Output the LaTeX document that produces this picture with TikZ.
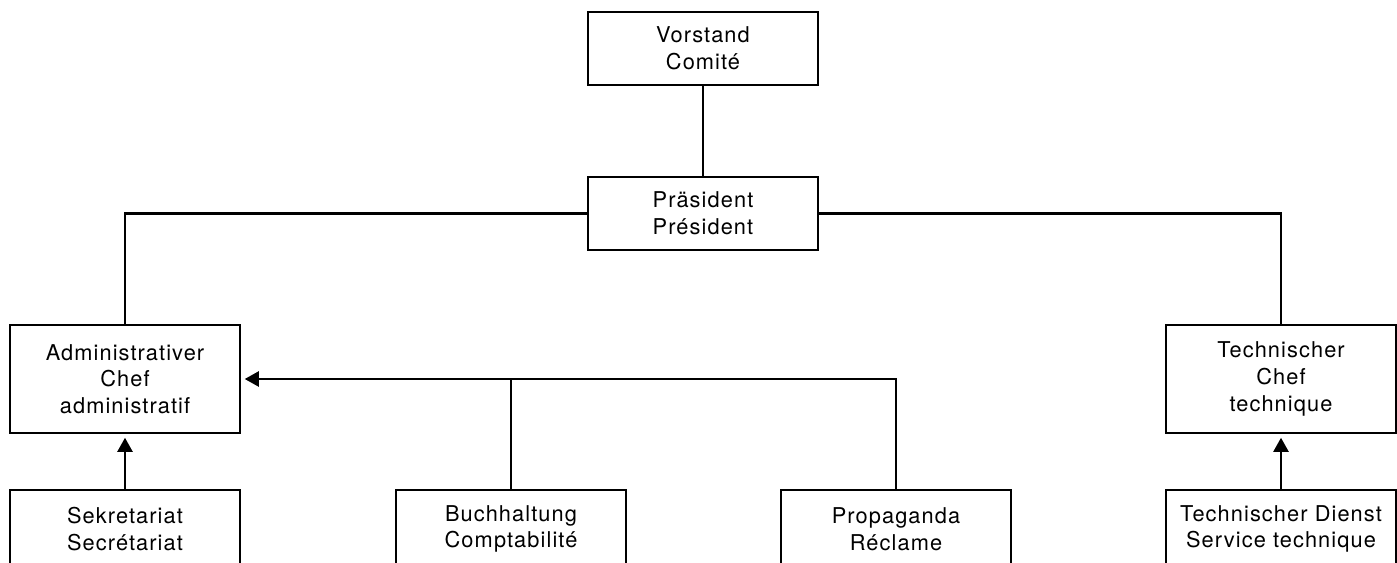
\documentclass[tikz,border=0pt]{standalone}
\usepackage{fontspec}
\setmainfont[LetterSpace=5]{TeX Gyre Heros}
\usetikzlibrary{arrows.meta}

\begin{document}
\begin{tikzpicture}[
			x=0.02cm, y=-0.02cm,
			box/.style={
					draw,
					line width=1.4pt,
					align=center,
					font=\fontsize{12.4}{15.2}\selectfont,
					inner sep=0pt,
					minimum width=4.6cm
				},
			flat/.style={box, minimum height=1.46cm},
			tall/.style={box, minimum height=2.16cm},
			low/.style={box, minimum height=1.56cm},
			link/.style={draw, line width=1.4pt},
			report/.style={link, -{Triangle[length=8pt, width=8.5pt]}, shorten >=2pt}
		]
		\useasboundingbox (0,0) rectangle (1397,562);
		\clip (0,0) rectangle (1397,562);

		\node[flat] (vorstand) at (703,48.5) {Vorstand \\ Comité};
		\node[flat] (praes) at (703,213.5) {Präsident \\ Président};

		\node[tall] (admin) at (125,379) {Administrativer \\ Chef \\ administratif};
		\node[tall] (techn) at (1281,379) {Technischer \\ Chef \\ technique};

		% untere Reihe, unten abgeschnitten
		\node[low] (sekr) at (125,529) {Sekretariat \\ Secrétariat};
		\node[low] (buch) at (511,529) {Buchhaltung \\ Comptabilité};
		\node[low] (propa) at (896,529) {Propaganda \\ Réclame};
		\node[low] (dienst) at (1281,529) {Technischer Dienst \\ Service technique};

		\path[link] (vorstand) -- (praes);
		\path[link] (praes.west) -| (admin.north);
		\path[link] (praes.east) -| (techn.north);

		\path[report] (propa.north) |- (admin.east);
		\path[link] (buch.north) -- (buch.north |- admin.east);
		\path[report] (sekr.north) -- (admin.south);
		\path[report] (dienst.north) -- (techn.south);
	\end{tikzpicture}
\end{document}
